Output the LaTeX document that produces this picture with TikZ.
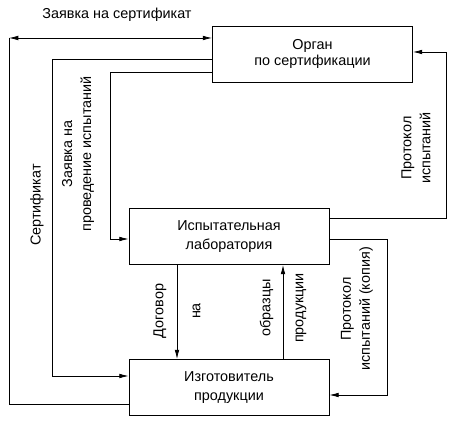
\documentclass[tikz,border=0pt]{standalone}
\usepackage{fontspec}
\setmainfont{Liberation Sans}
\usetikzlibrary{arrows.meta, positioning, calc}

\begin{document}
\begin{tikzpicture}[x=0.75pt, y=-0.75pt]

\tikzset{
  blockbox/.style={draw, line width=0.6pt, minimum width=150pt, minimum height=42pt,
    align=center, inner sep=0pt, font=\fontsize{10.8}{14.25}\selectfont},
  link/.style={line width=0.6pt},
  flow/.style={link, -{Latex[length=7pt, width=3.5pt]}},
  flowlabel/.style={font=\fontsize{10.8}{14.25}\selectfont, align=center, inner sep=0pt},
  sidelabel/.style={flowlabel, rotate=90},
}

  \useasboundingbox (0,0) rectangle (460,427);

  % ── Blocks ────────────────────────────────────────────────
  \node[blockbox] (org) at (312.5,54)  {Орган\\[-2.25pt]по сертификации};
  \node[blockbox] (lab) at (229,236.5) {Испытательная\\лаборатория};
  \node[blockbox] (mfr) at (229,387.5) {Изготовитель\\продукции};

  % ── Corner points of the connectors ───────────────────────
  \coordinate (lt) at (9,38);
  \coordinate (lb) at (9,404);
  \coordinate (a1) at (52,59);
  \coordinate (a2) at (52,376);
  \coordinate (b1) at (110,72);
  \coordinate (b2) at (110,239);
  \coordinate (r1) at (446,218);
  \coordinate (r2) at (446,52);
  \coordinate (k1) at (387,239);
  \coordinate (k2) at (387,395);
  \coordinate (d)  at (177,0);
  \coordinate (u)  at (283,0);

  % ── Left side: manufacturer <-> certification body ────────
  \draw[link, {Latex[length=7pt, width=3.5pt]}-{Latex[length=7pt, width=3.5pt]}]
    (lt) -- (lt -| org.west);
  \draw[link] (lt) -- (lb) -- (lb -| mfr.west);
  \draw[flow] (a1 -| org.west) -- (a1) -- (a2) -- (a2 -| mfr.west);
  \draw[flow] (b1 -| org.west) -- (b1) -- (b2) -- (b2 -| lab.west);

  % ── Right side: test reports ──────────────────────────────
  \draw[flow] (r1 -| lab.east) -- (r1) -- (r2) -- (r2 -| org.east);
  \draw[flow] (k1 -| lab.east) -- (k1) -- (k2) -- (k2 -| mfr.east);

  % ── Between laboratory and manufacturer ───────────────────
  \draw[flow] (d |- lab.south) -- (d |- mfr.north);
  \draw[flow] (u |- mfr.north) -- (u |- lab.south);

  % ── Labels ────────────────────────────────────────────────
  \node[flowlabel] (lblreq)    at (117,15)  {Заявка на сертификат};
  \node[sidelabel] (lblcert)   at (37,205)  {Сертификат};
  \node[sidelabel] (lbltest)   at (78,154)  {Заявка на\\проведение испытаний};
  \node[sidelabel] (lblprot)   at (416,148) {Протокол\\испытаний};
  \node[sidelabel] (lbldeal)   at (177,311) {Договор\\[13.5pt]на};
  \node[sidelabel] (lblsample) at (283,308) {образцы\\[10.5pt]продукции};
  \node[sidelabel] (lblcopy)   at (357,309) {Протокол\\испытаний (копия)};

\end{tikzpicture}
\end{document}
